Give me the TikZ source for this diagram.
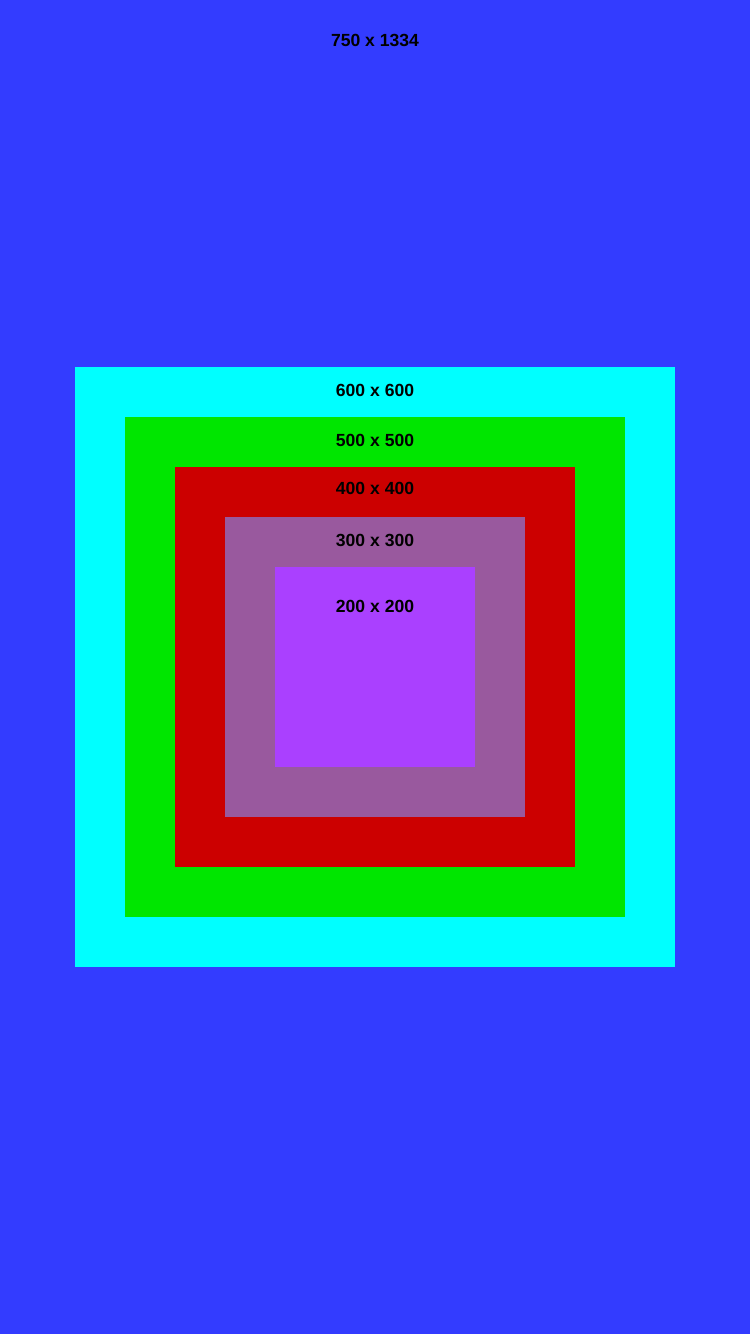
\documentclass[tikz,border=0pt]{standalone}
\usepackage{fontspec}
\setmainfont{Liberation Sans}
\definecolor{screenbg}{RGB}{51,60,255}
\definecolor{sqcyan}{RGB}{0,255,255}
\definecolor{sqgreen}{RGB}{0,230,0}
\definecolor{sqred}{RGB}{204,0,0}
\definecolor{sqmauve}{RGB}{153,89,158}
\definecolor{sqviolet}{RGB}{170,64,255}
\usetikzlibrary{positioning}
\tikzset{
  square/.style={rectangle, draw=none, inner sep=0pt, outer sep=0pt},
  sizelabel/.style={font=\fontsize{10}{12}\selectfont\bfseries,
    text=black, inner sep=0pt, anchor=center},
}

\begin{document}
\begin{tikzpicture}[x=0.02cm, y=-0.02cm]
  % screen
  \fill[screenbg] (0,0) rectangle (750,1334);
  \useasboundingbox (0,0) rectangle (750,1334);
  \node[sizelabel] (screenlbl) at (375,40) {750 x 1334};

  % nested squares
  \node[square, fill=sqcyan, minimum size=12cm] (sq600) at (375,667) {};
  \node[square, fill=sqgreen, minimum size=10cm] (sq500) at (375,667) {};
  \node[square, fill=sqred, minimum size=8cm] (sq400) at (375,667) {};
  \node[square, fill=sqmauve, minimum size=6cm] (sq300) at (375,667) {};
  \node[square, fill=sqviolet, minimum size=4cm] (sq200) at (375,667) {};

  \node[sizelabel] (lbl600) at (375,390) {600 x 600};
  \node[sizelabel] (lbl500) at (375,440) {500 x 500};
  \node[sizelabel] (lbl400) at (375,488) {400 x 400};
  \node[sizelabel] (lbl300) at (375,540) {300 x 300};
  \node[sizelabel] (lbl200) at (375,606) {200 x 200};
\end{tikzpicture}
\end{document}
